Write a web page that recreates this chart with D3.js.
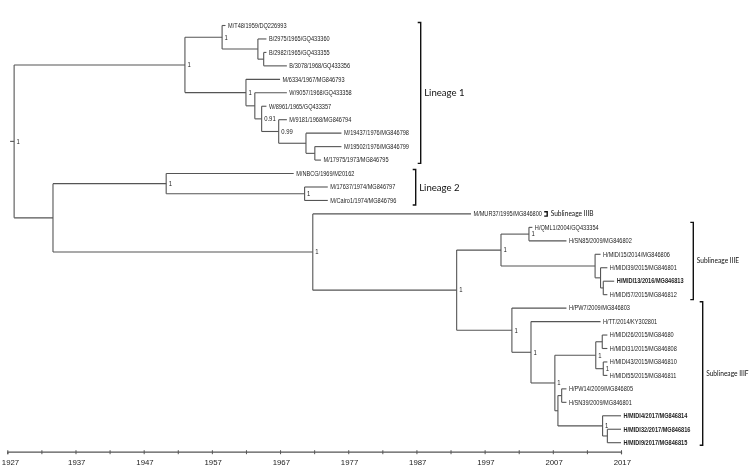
<!DOCTYPE html>
<html>
<head>
<meta charset="utf-8">
<script src="https://cdn.jsdelivr.net/npm/d3@7/dist/d3.min.js"></script>
<style>
  html, body { margin: 0; padding: 0; background: #fff; }
  svg { display: block; will-change: transform; }
</style>
</head>
<body>
<svg id="chart" width="750" height="472"></svg>
<script>
// ---------------- DATA ----------------
const leafNames = [
  "M/T48/1959/DQ226993", "B/2975/1965/GQ433360", "B/2982/1965/GQ433355", "B/3078/1968/GQ433356",
  "M/6334/1967/MG846793", "W/9057/1968/GQ433358", "W/8961/1965/GQ433357", "M/9181/1968/MG846794",
  "M/19437/1976/MG846798", "M/19502/1976/MG846799", "M/17975/1973/MG846795",
  "M/NBCG/1969/M20162", "M/17637/1974/MG846797", "M/Cairo1/1974/MG846796",
  "M/MUR37/1995/MG846800",
  "H/QML1/2004/GQ433354", "H/SN85/2009/MG846802", "H/MIDI15/2014/MG846806", "H/MIDI39/2015/MG846801",
  "H/MIDI13/2016/MG846813", "H/MIDI57/2015/MG846812",
  "H/PW7/2009/MG846803", "H/TT/2014/KY302801", "H/MIDI26/2015/MG84680", "H/MIDI31/2015/MG846808",
  "H/MIDI43/2015/MG846810", "H/MIDI55/2015/MG846811", "H/PW14/2009/MG846805", "H/SN39/2009/MG846801",
  "H/MIDI4/2017/MG846814", "H/MIDI32/2017/MG846816", "H/MIDI9/2017/MG846815"
];
const leafYears = [1959, 1965, 1965, 1968, 1967, 1968, 1965, 1968, 1976, 1976, 1973,
  1969, 1974, 1974, 1995, 2004, 2009, 2014, 2015, 2016, 2015,
  2009, 2014, 2015, 2015, 2015, 2015, 2009, 2009, 2017, 2017, 2017];
const leafParents = ["B", "C", "D", "D", "E", "F", "G", "H", "I", "J", "J",
  "L", "N", "N", "M", "R", "R", "S", "T", "U", "U",
  "Q", "V", "X1", "X1", "X2", "X2", "Z", "Z", "AA", "AB", "AB"];
const leafBold = ["H/MIDI13/2016/MG846813", "H/MIDI4/2017/MG846814", "H/MIDI32/2017/MG846816", "H/MIDI9/2017/MG846815"];

const nodeIds = ["root", "A", "B", "C", "D", "E", "F", "G", "H", "I", "J",
  "K", "L", "N", "M", "O", "P", "R", "S", "T", "U",
  "Q", "V", "W", "X", "X1", "X2", "Y", "Z", "AA", "AB"];
const nodeParents = [null, "root", "A", "B", "C", "A", "E", "F", "G", "H", "I",
  "root", "K", "L", "K", "M", "O", "P", "P", "S", "T",
  "O", "Q", "V", "W", "X", "X", "W", "Y", "Y", "AA"];
const nodeYears = [1928.0, 1953.05, 1958.5, 1963.75, 1964.6, 1962.0, 1963.3, 1964.3, 1966.8, 1970.8, 1972.1,
  1933.7, 1950.3, 1970.6, 1971.8, 1992.9, 1999.4, 2003.5, 2013.2, 2014.0, 2014.4,
  2001.0, 2003.8, 2007.3, 2013.3, 2014.25, 2014.4, 2007.75, 2008.3, 2014.3, 2015.0];
const nodeSupport = ["1", "1", "1", "", "", "1", "", "0.91", "0.99", "", "",
  "", "1", "1", "1", "1", "1", "1", "", "", "",
  "1", "1", "1", "1", "", "1", "", "", "1", ""];

const cladeNames = ["Lineage 1", "Lineage 2", "Sublineage IIIB", "Sublineage IIIE", "Sublineage IIIF"];
const cladeFirstLeaf = [0, 11, 14, 15, 21];
const cladeLastLeaf = [10, 13, 14, 20, 31];

const axisStart = 1927, axisEnd = 2017;
const tickYears = d3.range(1927, 2018, 5);
const tickLabels = d3.range(1927, 2018, 10);

// ---------------- LAYOUT ----------------
const cladeLayout = [
  { bx: 420.7, padTop: 3, padBot: 3.3, size: 9.6 },
  { bx: 415.7, padTop: 4, padBot: 4.5, size: 9.6 },
  { bx: 547.2, padTop: 2.2, padBot: 2.2, size: 6.6 },
  { bx: 693.3, padTop: 5, padBot: 5, size: 6.6 },
  { bx: 702.7, padTop: 6.4, padBot: 2.5, size: 6.6 }
];
const treeColor = "#555";
const labelFont = "Liberation Sans, Arial, sans-serif";
const cladeFont = "Lato, 'Open Sans', sans-serif";

const svg = d3.select("#chart");
const x = d3.scaleLinear().domain([axisStart, axisEnd]).range([7.3, 621]);
const yLeaf = d3.scaleLinear().domain([0, leafNames.length - 1]).range([25.5, 442.7]);

// Build hierarchy
const rows = [];
nodeIds.forEach((id, i) => rows.push({ id, parent: nodeParents[i], year: nodeYears[i], support: nodeSupport[i], leaf: false }));
leafNames.forEach((n, i) => rows.push({ id: n, parent: leafParents[i], year: leafYears[i], support: "", leaf: true, index: i }));
const root = d3.stratify().id(d => d.id).parentId(d => d.parent)(rows);

root.eachAfter(n => {
  n.px = x(n.data.year);
  if (n.data.leaf) n.py = yLeaf(n.data.index);
  else {
    const ext = d3.extent(n.children, c => c.py);
    n.py = (ext[0] + ext[1]) / 2;
    n.ymin = ext[0]; n.ymax = ext[1];
  }
});

const g = svg.append("g");
root.descendants().forEach(n => {
  if (n.parent) {
    g.append("line").attr("x1", n.parent.px).attr("x2", n.px).attr("y1", n.py).attr("y2", n.py)
      .attr("stroke", treeColor).attr("stroke-width", 1.1);
  }
  if (n.children) {
    g.append("line").attr("x1", n.px).attr("x2", n.px).attr("y1", n.ymin).attr("y2", n.ymax)
      .attr("stroke", treeColor).attr("stroke-width", 1.1);
  }
});
// root stub
g.append("line").attr("x1", root.px - 4).attr("x2", root.px).attr("y1", root.py).attr("y2", root.py)
  .attr("stroke", treeColor).attr("stroke-width", 1.1);

// support labels
root.descendants().filter(n => n.data.support).forEach(n => {
  g.append("text")
    .attr("transform", `translate(${n.px + 2.5},${n.py}) scale(0.9,1)`)
    .attr("dy", "0.35em")
    .attr("font-family", labelFont).attr("font-size", 6.6)
    .attr("fill", "#222").text(n.data.support);
});

// leaf labels
root.leaves().forEach(n => {
  g.append("text")
    .attr("transform", `translate(${n.px + 2.5},${n.py}) scale(0.87,1)`)
    .attr("dy", "0.35em")
    .attr("font-family", labelFont).attr("font-size", 6.45)
    .attr("font-weight", leafBold.includes(n.data.id) ? "bold" : "normal")
    .attr("fill", "#222").text(n.data.id);
});

// clade brackets
cladeNames.forEach((name, i) => {
  const L = cladeLayout[i];
  const y0 = yLeaf(cladeFirstLeaf[i]) - L.padTop;
  const y1 = yLeaf(cladeLastLeaf[i]) + L.padBot;
  svg.append("path")
    .attr("d", `M${L.bx - 3},${y0}H${L.bx}V${y1}H${L.bx - 3}`)
    .attr("fill", "none").attr("stroke", "#111").attr("stroke-width", 1.4);
  svg.append("text").attr("x", L.bx + 3.5).attr("y", (y0 + y1) / 2).attr("dy", "0.35em")
    .attr("font-family", cladeFont).attr("font-size", L.size).attr("fill", "#111").text(name);
});

// axis
const axisY = 451.7;
const axis = d3.axisBottom(x).tickValues(tickYears).tickSize(2.5)
  .tickFormat(d => tickLabels.includes(d) ? String(d) : "");
const ag = svg.append("g").attr("transform", `translate(0,${axisY})`).call(axis);
ag.select(".domain").attr("stroke", "#555").attr("stroke-width", 1.2);
ag.selectAll(".tick line").attr("stroke", "#555").attr("y1", -1.5);
ag.selectAll(".tick text").attr("font-family", labelFont)
  .attr("font-size", 7.8).attr("fill", "#222").attr("y", 7.5)
  .attr("dx", d => d === 1927 ? "2.7" : "0.8");
</script>
</body>
</html>
